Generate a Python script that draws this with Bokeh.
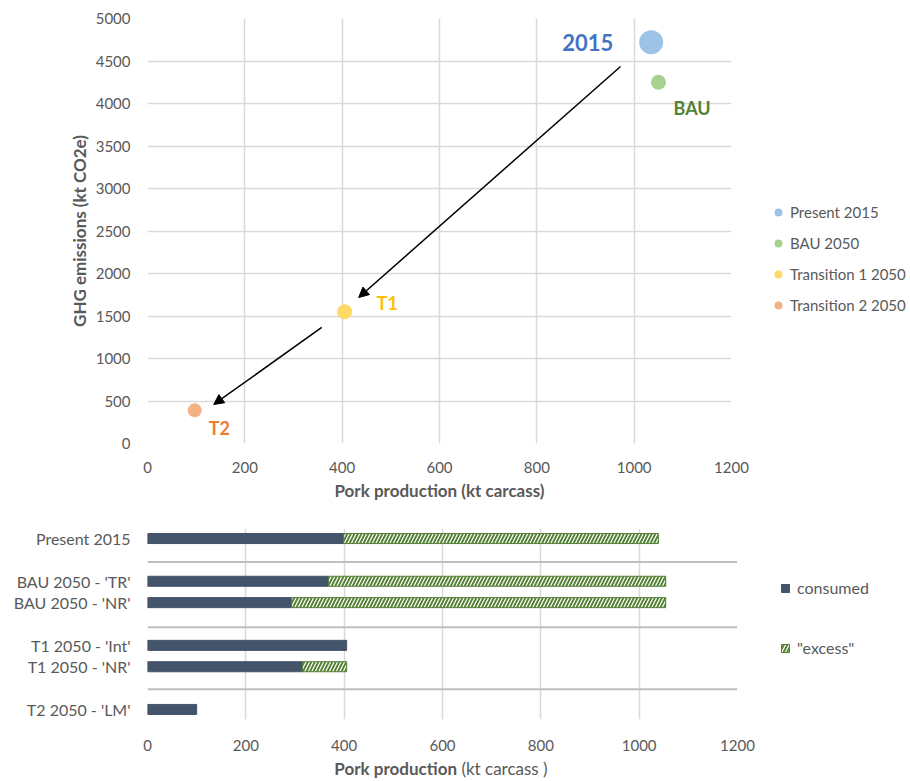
from bokeh.plotting import figure
from bokeh.models import (ColumnDataSource, Legend, LegendItem, Arrow, NormalHead,
                          Span, FixedTicker, Range1d, Div)
from bokeh.layouts import column
from bokeh.embed import file_html
from bokeh.resources import INLINE

FONT = "Lato"
GREY = "#595959"
GRID = "#D9D9D9"

# --- GHG emissions vs pork production, per scenario ---
scenarios = ["Present 2015", "BAU 2050", "Transition 1 2050", "Transition 2 2050"]
short_names = ["2015", "BAU", "T1", "T2"]
production = [1035, 1050, 405, 97]          # kt carcass
emissions = [4720, 4250, 1550, 390]         # kt CO2e
point_colors = ["#9DC3E6", "#A9D18E", "#FFD966", "#F4B183"]
label_colors = ["#4472C4", "#548235", "#FFC000", "#ED7D31"]

# trajectory arrows (start, end) in axis units
arrow_starts = [(972, 4435), (358, 1365)]
arrow_ends = [(434, 1718), (136, 459)]

# --- production split: consumed vs "excess" ---
diets = ["Present 2015", "BAU 2050 - 'TR'", "BAU 2050 - 'NR'",
         "T1 2050 - 'Int'", "T1 2050 - 'NR'", "T2 2050 - 'LM'"]
consumed = [399, 368, 293, 405, 315, 100]
excess = [640, 686, 761, 0, 90, 0]

# styling / layout helpers
point_sizes = [24, 15, 15, 14]
label_sizes = ["22px", "18px", "18px", "18px"]
label_dx = [-38, 15, 32, 14]
label_dy = [0, 26, -9, 18]
label_align = ["right", "left", "left", "left"]
row_slots = [0, 2, 3, 5, 6, 8]
group_breaks = [1.1, 4.15, 7.05]


def style_axes(p):
    for ax in (p.xaxis, p.yaxis):
        ax.axis_line_color = None
        ax.major_tick_line_color = None
        ax.minor_tick_line_color = None
        ax.major_label_text_font = FONT
        ax.major_label_text_font_size = "15px"
        ax.major_label_text_color = GREY
        ax.axis_label_text_font = FONT
        ax.axis_label_text_font_size = "17px"
        ax.axis_label_text_color = GREY
        ax.axis_label_text_font_style = "bold"
    p.outline_line_color = None
    p.background_fill_color = "white"
    p.border_fill_color = "white"


# ---------------- top: scatter ----------------
p1 = figure(frame_width=584, frame_height=425,
            x_range=Range1d(0, 1200), y_range=Range1d(0, 5000),
            output_backend="svg", toolbar_location=None,
            min_border_left=147, min_border_top=18, min_border_bottom=62,
            min_border_right=179)
style_axes(p1)
p1.xaxis.ticker = FixedTicker(ticks=list(range(0, 1201, 200)))
p1.yaxis.ticker = FixedTicker(ticks=list(range(0, 5001, 500)))
p1.xgrid.ticker = p1.xaxis.ticker
p1.ygrid.ticker = p1.yaxis.ticker
p1.grid.grid_line_color = GRID
p1.grid.grid_line_width = 1.5
p1.xaxis.axis_label = "Pork production (kt carcass)"
p1.yaxis.axis_label = "GHG emissions (kt CO2e)"
p1.xaxis.major_label_standoff = 12
p1.yaxis.major_label_standoff = 11
p1.xaxis.axis_label_standoff = 4
p1.yaxis.axis_label_standoff = 3

src = ColumnDataSource(dict(x=production, y=emissions, color=point_colors,
                            size=point_sizes))
pts = p1.scatter("x", "y", size="size", fill_color="color", line_color=None,
                 source=src)

for (xs, ys), (xe, ye) in zip(arrow_starts, arrow_ends):
    p1.add_layout(Arrow(x_start=xs, y_start=ys, x_end=xe, y_end=ye,
                        line_color="black", line_width=1.5,
                        end=NormalHead(size=10, fill_color="black",
                                       line_color="black")))

for i in range(len(short_names)):
    p1.text(x=[production[i]], y=[emissions[i]], text=[short_names[i]],
            x_offset=label_dx[i], y_offset=label_dy[i],
            text_align=label_align[i], text_baseline="middle",
            text_font={"value": FONT}, text_font_style="bold",
            text_font_size=label_sizes[i], text_color=label_colors[i])

leg1 = Legend(items=[LegendItem(label=scenarios[i], renderers=[pts], index=i)
                     for i in range(len(scenarios))],
              location=(37, 128), margin=0, padding=0,
              glyph_width=20, glyph_height=20, label_standoff=2, spacing=11,
              label_text_font=FONT, label_text_font_size="15px",
              label_text_color=GREY, border_line_color=None,
              background_fill_alpha=0)
p1.add_layout(leg1, "right")

# ---------------- bottom: stacked bars ----------------
p2 = figure(frame_width=590, frame_height=191,
            x_range=Range1d(0, 1200), y_range=Range1d(8.47, -0.47),
            output_backend="svg", toolbar_location=None,
            min_border_left=146, min_border_top=23, min_border_bottom=40,
            min_border_right=174)
style_axes(p2)
p2.xaxis.ticker = FixedTicker(ticks=list(range(0, 1201, 200)))
p2.xgrid.ticker = p2.xaxis.ticker
p2.xgrid.grid_line_color = GRID
p2.xgrid.grid_line_width = 1.5
p2.ygrid.grid_line_color = None
p2.yaxis.ticker = FixedTicker(ticks=row_slots)
p2.yaxis.major_label_overrides = {s: d for s, d in zip(row_slots, diets)}
p2.yaxis.major_label_text_font_size = "16px"
p2.yaxis.major_label_standoff = 11
p2.xaxis.major_label_standoff = 14

for b in group_breaks:
    p2.add_layout(Span(location=b, dimension="width", line_color="#BFBFBF",
                       line_width=2))

totals = [c + e for c, e in zip(consumed, excess)]
cons_src = ColumnDataSource(dict(y=row_slots, right=consumed))
exc_rows = [i for i, e in enumerate(excess) if e > 0]
exc_src = ColumnDataSource(dict(y=[row_slots[i] for i in exc_rows],
                                left=[consumed[i] for i in exc_rows],
                                right=[totals[i] for i in exc_rows]))

r_cons = p2.hbar(y="y", left=0, right="right", height=0.47, source=cons_src,
                 fill_color="#44546A", line_color="#44546A", line_width=1)
r_exc = p2.hbar(y="y", left="left", right="right", height=0.47, source=exc_src,
                fill_color="#548235", line_color="#548235", line_width=1,
                hatch_pattern="/", hatch_color="white", hatch_weight=1.2,
                hatch_scale=7)

leg2 = Legend(items=[LegendItem(label="consumed", renderers=[r_cons]),
                     LegendItem(label='"excess"', renderers=[r_exc])],
              location=(43, 62), margin=0, padding=0,
              glyph_width=10, glyph_height=10, label_standoff=7, spacing=41,
              label_text_font=FONT, label_text_font_size="16px",
              label_text_color=GREY, border_line_color=None,
              background_fill_alpha=0)
p2.add_layout(leg2, "right")

# axis title with a bold lead-in
title2 = Div(
    text=('<div style="width:590px;text-align:center;font-family:Lato;'
          f'font-size:17px;color:{GREY};line-height:20px;white-space:nowrap">'
          '<b>Pork production</b> (kt carcass )</div>'),
    width=590, height=22, margin=(0, 0, 0, 146),
    styles={"text-align": "center"})

layout = column(p1, p2, title2, spacing=0)
open("out.html", "w").write(file_html(layout, INLINE))
